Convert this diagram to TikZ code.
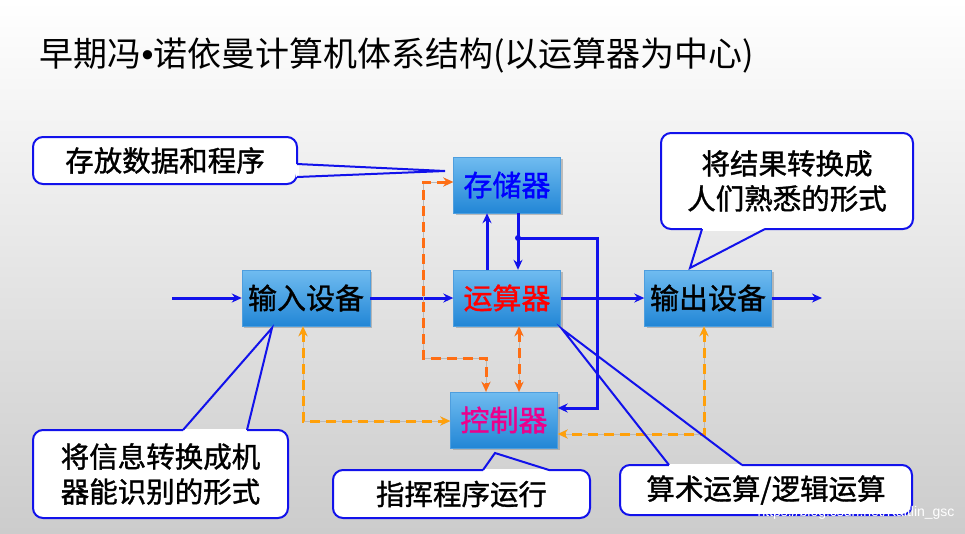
\documentclass[tikz,border=0pt]{standalone}
\usepackage{fontspec}
\setmainfont{Noto Sans CJK SC}
\newfontfamily\boxfont{Noto Sans CJK SC}[FakeBold=1.2]
\newfontfamily\wmfont{Liberation Sans}
\usetikzlibrary{arrows.meta,shadows}
\definecolor{boxtop}{RGB}{112,188,240}
\definecolor{boxbot}{RGB}{34,134,214}
\definecolor{lineblue}{RGB}{18,18,235}
\definecolor{orgred}{RGB}{255,110,20}
\definecolor{orgamb}{RGB}{255,160,10}

\begin{document}
\begin{tikzpicture}[x=1pt,y=-1pt,
  unit/.style={top color=boxtop,bottom color=boxbot,draw=boxbot!80!white,
    minimum width=107pt,minimum height=56pt,inner sep=0pt,
    font=\boxfont\fontsize{29}{30}\selectfont,
    drop shadow={opacity=0.45,shadow xshift=2pt,shadow yshift=-2pt}},
  note/.style={draw=lineblue,fill=white,line width=2pt,rounded corners=10pt,
    align=center,inner sep=0pt,font=\boxfont\fontsize{28.5}{35}\selectfont},
  bl/.style={draw=lineblue,line width=3pt,-{Stealth[length=10pt,width=9pt]}},
  od/.style={draw=#1,line width=3pt,dash pattern=on 10pt off 6pt,
    {Stealth[length=10pt,width=9pt]}-{Stealth[length=10pt,width=9pt]},
    preaction={draw=gray!55,solid}}
  ]
\def\pointer#1#2#3{%
  \draw[white,line width=3pt] (#1) -- (#2);
  \draw[lineblue,line width=2pt] (#1) -- (#3) -- (#2);}
% background and title
\shade[top color=white,middle color=gray!10,bottom color=gray!40] (0,0) rectangle (965,533);
\node[anchor=west,font=\fontsize{34}{36}\selectfont] (title) at (36,55)
  {早期冯{\wmfont •}诺依曼计算机体系结构(以运算器为中心)};
% units
\node[unit,text=blue] (mem) at (507,185) {存储器};
\node[unit,text=red] (alu) at (507,298) {运算器};
\node[unit,text=magenta] (ctl) at (504,420) {控制器};
\node[unit,minimum width=128pt] (inp) at (306,298) {输入设备};
\node[unit,minimum width=127pt] (outp) at (708,298) {输出设备};
% data flow
\coordinate (src) at (172,298);
\coordinate (snk) at (822,298);
\coordinate (j) at (518,238);
\coordinate (k) at (597,408);
\draw[bl] (src) -- (inp.west);
\draw[bl] (inp.east) -- (alu.west);
\draw[bl] (alu.east) -- (outp.west);
\draw[bl] (outp.east) -- (snk);
\draw[bl] ([xshift=-20pt]alu.north) -- ([xshift=-20pt]mem.south);
\draw[bl] ([xshift=11pt]mem.south) -- ([xshift=11pt]alu.north);
\draw[bl] (j) -| (k) -- (k -| ctl.east);
\fill[lineblue] (j) circle (3pt);
% control flow
\coordinate (a1) at (303,421);
\coordinate (b1) at (423,182);
\coordinate (b2) at (486,358);
\coordinate (c1) at (519,360);
\coordinate (d1) at (704,434);
\draw[od=orgamb] (inp.south -| a1) -- (a1) -- (a1 -| ctl.west);
\draw[od=orgred] (b1 -| mem.west) -- (b1) |- (b2) -- (b2 |- ctl.north);
\draw[od=orgred] (alu.south -| c1) -- (ctl.north -| c1);
\draw[od=orgamb] (outp.south -| d1) -- (d1) -- (d1 -| ctl.east);
% callouts
\node[note,minimum width=264pt,minimum height=47pt] (nmem) at (165,160.5) {存放数据和程序};
\node[note,minimum width=252pt,minimum height=96pt] (nout) at (787,181) {将结果转换成\\人们熟悉的形式};
\node[note,minimum width=255pt,minimum height=88pt] (ninp) at (160.5,474) {将信息转换成机\\器能识别的形式};
\node[note,minimum width=257pt,minimum height=48pt] (nctl) at (461.5,494) {指挥程序运行};
\node[note,minimum width=292pt,minimum height=50pt] (nalu) at (766,490) {算术运算/逻辑运算};
\coordinate (p1a) at (297,164); \coordinate (p1b) at (297,177); \coordinate (p1t) at (445,171);
\coordinate (p2a) at (702,229); \coordinate (p2b) at (765,229); \coordinate (p2t) at (690,268);
\coordinate (p3a) at (183,430); \coordinate (p3b) at (247,430); \coordinate (p3t) at (272,328);
\coordinate (p4a) at (483,470); \coordinate (p4b) at (549,470); \coordinate (p4t) at (495,453);
\coordinate (p5a) at (669,465); \coordinate (p5b) at (742,465); \coordinate (p5t) at (562,329);
\pointer{p1a}{p1b}{p1t}
\pointer{p2a}{p2b}{p2t}
\pointer{p3a}{p3b}{p3t}
\pointer{p4a}{p4b}{p4t}
\pointer{p5a}{p5b}{p5t}
\node[anchor=east,text=white,font=\wmfont\fontsize{14}{16}\selectfont] (wm) at (958,513)
  {https://blog.csdn.net/Kaitlin\_gsc};
\end{tikzpicture}
\end{document}
